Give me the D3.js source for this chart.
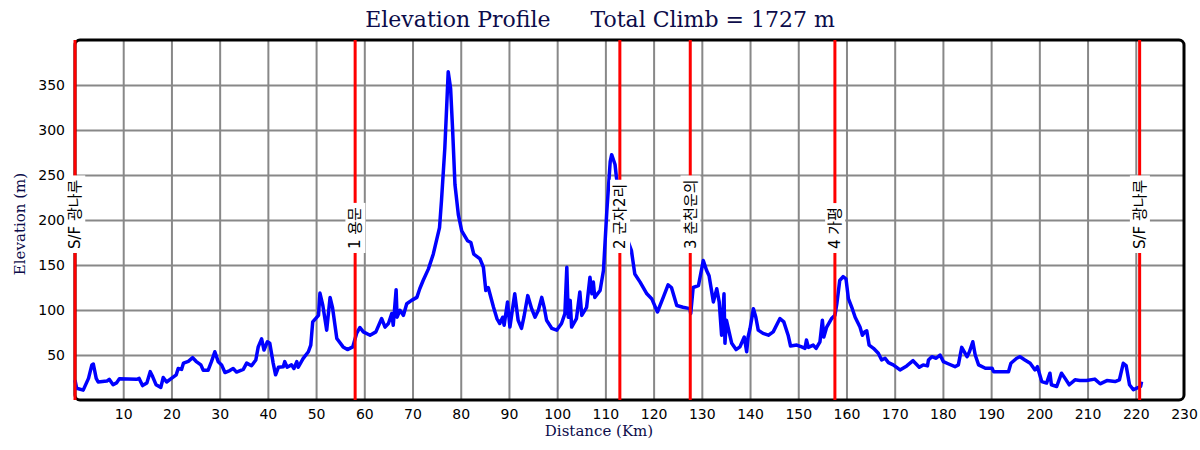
<!DOCTYPE html>
<html>
<head>
<meta charset="utf-8">
<script src="https://cdn.jsdelivr.net/npm/d3@7"></script>
<style>
  body { margin: 0; background: #fff; }
</style>
</head>
<body>
<div id="chart"></div>
<script>
// route distance (km) and elevation (m)
const distKm = [0, 0.35, 1.7, 2.8, 3.5, 3.8, 4.4, 4.8, 6.6, 7.1, 7.9, 8.6, 9.2, 12.8, 13.3, 14.0, 14.9, 15.6, 16.1, 16.8,
  17.8, 18.3, 19.0, 20.0, 21.0, 21.4, 22.1, 22.5, 23.5, 24.4, 25.1, 26.1, 26.6, 27.6, 28.3, 29.0, 29.7, 30.4, 31.1, 32.1,
  32.8, 33.5, 34.9, 35.6, 36.6, 37.5, 38.0, 38.7, 39.2, 39.9, 40.4, 41.1, 41.6, 42.2, 43.2, 43.5, 44.0, 44.9, 45.4, 46.0,
  46.3, 47.3, 48.4, 48.9, 49.3, 50.5, 50.8, 51.4, 52.2, 52.9, 53.4, 54.3, 55.6, 56.5, 57.6, 58.4, 59.1, 59.8, 61.2, 62.4,
  63.6, 64.3, 65.0, 65.7, 66.0, 66.6, 66.8, 67.4, 68.1, 68.8, 69.8, 70.9, 71.5, 72.2, 73.3, 74.3, 75.6, 76.0, 76.7, 77.1,
  77.4, 77.9, 78.3, 78.8, 79.5, 80.2, 81.4, 82.1, 82.7, 84.0, 84.7, 85.2, 85.7, 86.8, 87.5, 88.1, 88.7, 89.0, 89.7, 90.2,
  91.2, 91.9, 92.6, 93.1, 93.9, 94.7, 95.4, 96.1, 96.8, 97.3, 97.8, 98.9, 99.9, 100.9, 101.6, 102.0, 102.3, 102.7, 103.0, 104.0,
  104.7, 105.1, 106.1, 106.8, 107.2, 107.5, 107.8, 108.9, 109.6, 110.3, 111.0, 111.3, 112.0, 112.3, 113.0, 114.0, 114.8, 115.4, 116.1, 117.2,
  118.6, 119.6, 120.8, 122.0, 123.0, 123.7, 124.8, 126.1, 127.5, 127.7, 128.2, 129.3, 130.3, 131.0, 131.5, 132.4, 133.1, 133.6, 134.1, 134.6,
  134.8, 135.1, 136.2, 137.1, 137.9, 138.8, 139.3, 139.6, 140.0, 140.7, 141.2, 141.7, 142.7, 143.8, 144.8, 146.2, 147.0, 147.9, 148.4, 149.7,
  150.7, 151.4, 151.7, 152.1, 153.1, 153.7, 154.5, 155.0, 155.3, 155.9, 156.9, 157.6, 158.0, 158.6, 159.3, 159.9, 160.4, 161.1, 161.8, 162.8,
  163.3, 163.8, 164.2, 164.7, 165.6, 166.6, 167.3, 168.0, 168.7, 169.7, 171.1, 172.5, 173.8, 175.1, 175.9, 176.8, 177.0, 177.7, 178.6, 179.4,
  180.1, 181.2, 182.5, 183.2, 183.9, 185.0, 185.5, 186.2, 186.7, 187.4, 188.8, 190.2, 190.5, 192.2, 193.6, 194.1, 195.3, 196.0, 197.0, 198.1,
  199.1, 199.6, 200.5, 201.5, 202.2, 202.5, 203.6, 204.6, 205.3, 206.2, 207.4, 208.4, 209.8, 211.5, 212.6, 214.0, 215.7, 216.6, 217.4, 218.0,
  218.7, 219.5, 220.2, 221.0, 221.2];
const elevM = [22, 13, 11, 24, 39, 40, 24, 20, 21, 23, 17, 19, 23.5, 23, 24, 16, 19, 31.5, 26, 17,
  14, 25, 20, 24, 28, 35, 34, 41, 43, 47, 43, 39, 33, 33, 42.6, 53.6, 42.6, 39, 30.5, 32.7,
  35, 31, 34, 41, 38, 44.5, 59, 68, 55.5, 64.7, 63, 41, 28, 36.4, 37, 42.6, 36.4, 39, 35, 42.6,
  36.4, 46, 53.6, 61, 86.8, 94, 118.8, 105, 77.6, 114, 103, 68.4, 59, 56, 59, 74, 80.6, 75.7, 72, 75.7,
  90.5, 81, 85, 96, 83, 122.5, 92, 99.7, 94, 107, 110.7, 114, 123.6, 132.8, 145.7, 162, 191.6, 221, 280, 328,
  364.6, 346, 302, 239.5, 206, 188, 177, 175, 162, 156.7, 147.5, 121.7, 125, 103, 90.5, 85, 92, 83, 109, 81,
  118, 88.6, 79.5, 92, 116, 101.5, 92, 99.7, 114, 103, 88.6, 79.5, 77.6, 85, 96, 147.5, 92, 110.7, 81, 90.5,
  120, 94, 103, 136.4, 118, 131, 114, 121.7, 143.8, 210, 265, 272.6, 261.6, 246.8, 230, 195, 175, 166, 140, 131,
  118, 112.6, 97.8, 114, 128, 125, 105, 103, 101.5, 96, 125, 127, 155, 143.8, 138, 109, 123.6, 109, 72, 118,
  63, 88.6, 63, 56, 59, 70, 53.6, 70, 79.5, 101.5, 92, 77.6, 74, 72, 75.7, 90.5, 86.8, 72, 60, 61,
  59, 57.4, 66.6, 58.5, 61, 57.4, 64.7, 88.6, 70, 81, 90.5, 94, 107, 132.8, 137, 134.6, 112.6, 103, 92, 81,
  72, 75.7, 76.8, 61, 57.4, 51.9, 44.5, 46.4, 41.5, 39, 33.4, 37.9, 43.7, 36.4, 39, 37.9, 44.5, 48.1, 46.4, 50,
  42.6, 40, 37, 39, 58.5, 48.1, 53.6, 64.7, 50, 39, 35.3, 35.3, 31.5, 31.5, 31.5, 40.8, 46.4, 48.1, 44.5, 40.8,
  33.4, 37, 20.5, 18.8, 29.8, 16.9, 15, 29.8, 24.3, 16.9, 22.4, 21.6, 21.6, 23.2, 18, 21.6, 20.5, 22.4, 40.8, 38.2,
  16.9, 11.4, 13.2, 15, 20.5];

// checkpoints
const cpKm = [0, 58.1, 113.0, 127.6, 157.6, 220.8];
const cpNames = ["S/F 광나루", "1 용문", "2 군자2리", "3 춘천운의", "4 가평", "S/F 광나루"];

const xTicks = d3.range(10, 231, 10);
const yTicks = [50, 100, 150, 200, 250, 300, 350];
const totalClimb = 1727;

let width = 1200,
    height = 450,
    margin = { top: 40, left: 75, right: 16, bottom: 50 },
    innerW = width - margin.left - margin.right,
    innerH = height - margin.top - margin.bottom;

let svg = d3.select("#chart")
    .append("svg")
    .attr("width", width)
    .attr("height", height);

let xScale = d3.scaleLinear().domain([0, 230]).range([0, innerW]);
let yScale = d3.scaleLinear().domain([0, 400]).range([innerH, 0]);

let g = svg.append("g")
    .attr("transform", `translate(${margin.left},${margin.top})`);

// grid + tick labels
let xAxis = g.append("g")
    .attr("transform", `translate(0,${innerH})`)
    .call(d3.axisBottom(xScale).tickValues(xTicks).tickSize(-innerH).tickPadding(9));
let yAxis = g.append("g")
    .call(d3.axisLeft(yScale).tickValues(yTicks).tickSize(-innerW).tickPadding(10));

[xAxis, yAxis].forEach(ax => {
    ax.select(".domain").remove();
    ax.selectAll(".tick line").attr("stroke", "#888").attr("stroke-width", 2);
    ax.selectAll(".tick text")
        .attr("font-family", "DejaVu Sans")
        .attr("font-size", 14)
        .attr("fill", "#000");
});
xAxis.selectAll(".tick line").filter(d => d === 230).remove();

// frame
g.append("rect")
    .attr("x", 0)
    .attr("y", 0)
    .attr("width", innerW)
    .attr("height", innerH)
    .attr("rx", 5)
    .attr("fill", "none")
    .attr("stroke", "#000")
    .attr("stroke-width", 3);

// elevation line
let line = d3.line()
    .x((d, i) => xScale(distKm[i]))
    .y(d => yScale(d));

g.append("path")
    .datum(elevM)
    .attr("d", line)
    .attr("fill", "none")
    .attr("stroke", "#0000ff")
    .attr("stroke-width", 3.5)
    .attr("stroke-linejoin", "round");

// checkpoint markers
g.selectAll(".cp")
    .data(cpKm)
    .enter()
    .append("line")
    .attr("class", "cp")
    .attr("x1", d => xScale(d))
    .attr("x2", d => xScale(d))
    .attr("y1", 0)
    .attr("y2", innerH)
    .attr("stroke", "#ff0000")
    .attr("stroke-width", 3);

let labelBottom = 209;
cpKm.forEach((km, i) => {
    let lg = g.append("g")
        .attr("transform", `translate(${xScale(km)},${labelBottom}) rotate(-90)`);
    let bg = lg.append("rect").attr("fill", "#fff");
    let t = lg.append("text")
        .attr("x", 0)
        .attr("y", 0)
        .attr("dy", "0.35em")
        .attr("font-family", "DejaVu Sans, 'Noto Sans CJK KR'")
        .attr("font-size", 15)
        .attr("fill", "#000")
        .text(cpNames[i]);
    let bb = t.node().getBBox();
    bg.attr("x", bb.x - 4)
        .attr("y", bb.y - 1)
        .attr("width", bb.width + 8)
        .attr("height", bb.height + 2);
});

// titles
let title = svg.append("text")
    .attr("x", 600)
    .attr("y", 27)
    .attr("text-anchor", "middle")
    .attr("font-family", "DejaVu Serif")
    .attr("font-size", 22)
    .attr("fill", "#0c0c4a");
title.append("tspan").text("Elevation Profile");
title.append("tspan").attr("dx", 40).text("Total Climb = " + totalClimb + " m");

svg.append("text")
    .attr("x", 599)
    .attr("y", 436)
    .attr("text-anchor", "middle")
    .attr("font-family", "DejaVu Serif")
    .attr("font-size", 15)
    .attr("fill", "#0c0c4a")
    .text("Distance (Km)");

svg.append("text")
    .attr("transform", "translate(25,224) rotate(-90)")
    .attr("text-anchor", "middle")
    .attr("font-family", "DejaVu Serif")
    .attr("font-size", 15)
    .attr("fill", "#0c0c4a")
    .text("Elevation (m)");
</script>
</body>
</html>
